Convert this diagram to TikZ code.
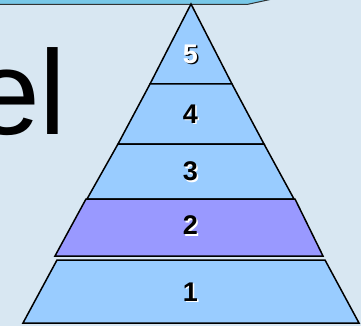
\documentclass[tikz,border=0pt]{standalone}
\usepackage{fontspec}
\setmainfont{Liberation Sans}
\definecolor{bg}{RGB}{216,231,242}
\definecolor{pyr}{RGB}{153,204,255}
\definecolor{pyrtwo}{RGB}{153,153,255}
\definecolor{band}{RGB}{120,200,232}
\begin{document}
\begin{tikzpicture}[x=1pt,y=-1pt,
  layer/.style={draw=black,line width=1.5pt,line join=miter,fill=pyr},
  num/.style={font=\bfseries\fontsize{27}{27}\selectfont,inner sep=0pt},
  numshadow/.style={num,text=white},
  big/.style={font=\fontsize{120}{120}\selectfont,inner sep=0pt,anchor=base west}]
\fill[bg] (0,0) rectangle (361,326);
\useasboundingbox (0,0) rectangle (361,326);
% top callout edge
\fill[band] (0,0) -- (270,0) -- (247,4.5) -- (0,4.5) -- cycle;
\draw[line width=1pt,black!80] (0,4.5) -- (247,4.5) -- (270,-0.5);
% big text
\node[big] (title) at (-27,135) {el};
% pyramid layers
\draw[layer] (191,4) -- (232,84) -- (150,84) -- cycle;
\draw[layer] (150,84) -- (232,84) -- (264,144) -- (118,144) -- cycle;
\draw[layer] (118,144) -- (264,144) -- (294,199) -- (87,199) -- cycle;
\draw[layer,fill=pyrtwo] (86,199) -- (295,199) -- (323,256) -- (55,256) -- cycle;
\draw[layer] (57,260) -- (325,260) -- (359,323) -- (23,323) -- cycle;
% labels
\node[num,text=black] (s5) at (192,55.5) {5};
\node[num,text=white] (n5) at (190.5,54) {5};
\foreach \n/\y in {4/114,3/171.5,2/225.5,1/292}{
  \node[numshadow] (s\n) at (192,\y+1.5) {\n};
  \node[num,text=black] (n\n) at (190.5,\y) {\n};
}
\end{tikzpicture}
\end{document}
